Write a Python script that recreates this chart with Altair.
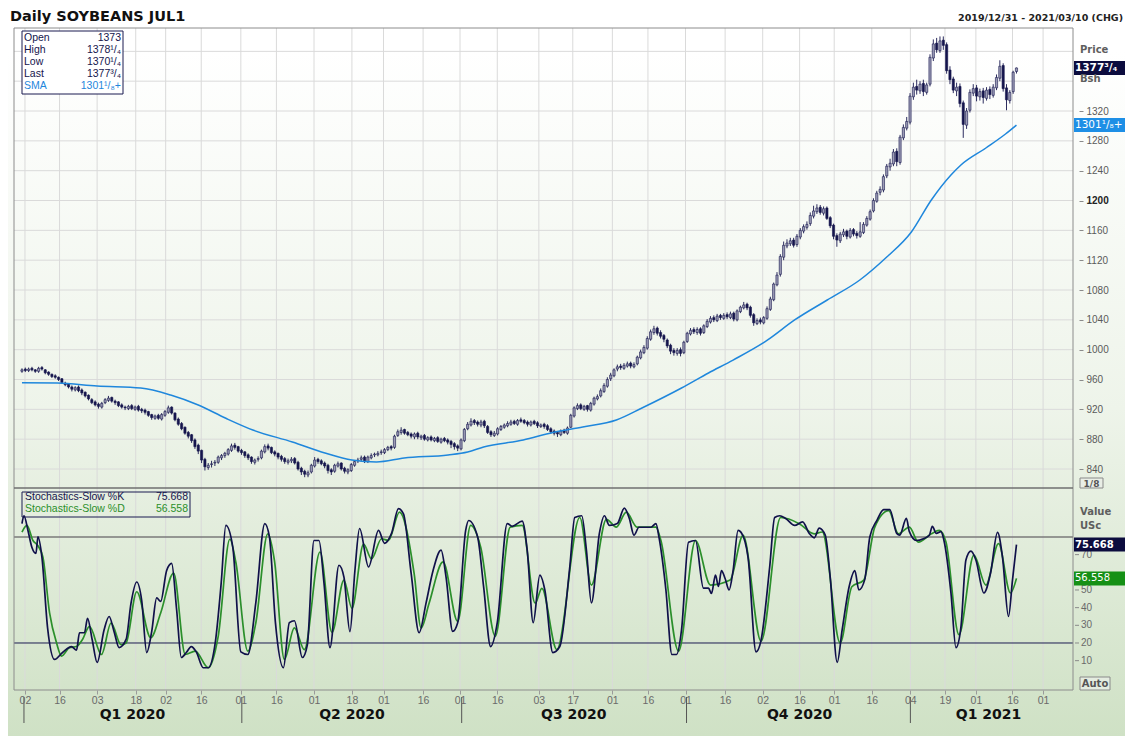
import json
import altair as alt
import pandas as pd

# ---------------- data ----------------
opens = [
    971, 974, 972, 975, 973, 971, 976, 973, 970, 967,
    965, 963, 961, 955, 954, 950, 946, 950, 946, 943,
    939, 933, 930, 927, 923, 929, 932, 936, 931, 930,
    926, 923, 921, 925, 920, 924, 920, 919, 917, 913,
    908, 912, 907, 912, 916, 923, 915, 907, 901, 896,
    889, 886, 879, 872, 865, 853, 842, 846, 848, 849,
    855, 858, 860, 865, 872, 870, 865, 863, 859, 856,
    849, 853, 855, 863, 871, 869, 863, 861, 857, 854,
    849, 851, 854, 849, 841, 837, 832, 836, 844, 853,
    851, 848, 845, 839, 837, 844, 848, 841, 836, 838,
    845, 851, 853, 856, 850, 855, 859, 859, 862, 862,
    866, 870, 869, 885, 889, 893, 889, 887, 883, 888,
    882, 885, 879, 883, 878, 882, 876, 881, 879, 877,
    874, 871, 867, 878, 894, 899, 905, 903, 899, 904,
    897, 890, 885, 887, 893, 896, 898, 900, 904, 900,
    906, 905, 903, 899, 904, 902, 897, 900, 898, 894,
    891, 889, 886, 892, 888, 896, 911, 921, 926, 920,
    925, 919, 927, 934, 938, 944, 951, 961, 965, 974,
    978, 975, 978, 982, 977, 981, 989, 996, 1002, 1014,
    1023, 1029, 1023, 1019, 1013, 1006, 999, 995, 1000, 996,
    1011, 1021, 1027, 1023, 1028, 1023, 1031, 1037, 1043, 1039,
    1046, 1042, 1047, 1043, 1049, 1040, 1051, 1056, 1061, 1057,
    1047, 1035, 1040, 1036, 1042, 1054, 1067, 1087, 1101, 1124,
    1139, 1142, 1147, 1141, 1151, 1159, 1164, 1169, 1179, 1185,
    1191, 1183, 1190, 1177, 1167, 1153, 1146, 1154, 1159, 1151,
    1161, 1156, 1152, 1157, 1167, 1175, 1186, 1199, 1211, 1214,
    1233, 1245, 1249, 1266, 1251, 1284, 1297, 1305, 1339, 1353,
    1347, 1357, 1345, 1356, 1391, 1411, 1401, 1415, 1409, 1375,
    1363, 1347, 1353, 1331, 1301, 1321, 1344, 1351, 1339, 1347,
    1337, 1349, 1341, 1351, 1364, 1381, 1351, 1334, 1346, 1373,
]
highs = [
    975, 976, 976, 977, 974, 977, 978, 974, 971, 968,
    967, 964, 962, 957, 955, 952, 951, 952, 948, 944,
    940, 935, 932, 929, 930, 935, 938, 937, 933, 931,
    928, 925, 926, 927, 925, 926, 922, 921, 918, 914,
    913, 914, 915, 919, 925, 924, 916, 909, 903, 897,
    891, 887, 881, 874, 866, 855, 848, 851, 852, 858,
    860, 863, 868, 874, 875, 871, 867, 864, 861, 857,
    854, 857, 866, 873, 874, 870, 865, 862, 859, 856,
    854, 856, 856, 851, 843, 839, 838, 847, 856, 855,
    853, 850, 847, 841, 847, 850, 849, 843, 841, 848,
    852, 855, 858, 858, 858, 861, 862, 864, 866, 868,
    871, 872, 886, 893, 896, 894, 891, 889, 889, 890,
    886, 887, 884, 885, 883, 884, 882, 883, 881, 879,
    876, 873, 881, 895, 903, 908, 907, 905, 906, 906,
    899, 892, 891, 896, 899, 901, 904, 906, 906, 907,
    909, 907, 905, 905, 906, 904, 901, 902, 900, 896,
    893, 891, 893, 894, 897, 914, 924, 928, 928, 926,
    926, 930, 937, 940, 948, 955, 963, 969, 975, 980,
    981, 982, 984, 984, 983, 992, 1000, 1006, 1018, 1027,
    1032, 1031, 1026, 1021, 1015, 1008, 1002, 1002, 1003, 1012,
    1024, 1029, 1030, 1030, 1030, 1034, 1041, 1045, 1046, 1048,
    1048, 1049, 1050, 1051, 1051, 1054, 1059, 1064, 1063, 1059,
    1049, 1042, 1043, 1045, 1058, 1071, 1090, 1104, 1128, 1145,
    1148, 1150, 1150, 1155, 1163, 1168, 1172, 1184, 1193, 1195,
    1194, 1192, 1192, 1179, 1169, 1156, 1158, 1162, 1161, 1163,
    1163, 1159, 1171, 1171, 1179, 1188, 1203, 1213, 1219, 1235,
    1249, 1256, 1269, 1270, 1288, 1302, 1312, 1344, 1358, 1362,
    1360, 1362, 1358, 1396, 1416, 1418, 1420, 1420, 1412, 1380,
    1366, 1358, 1357, 1334, 1324, 1349, 1356, 1355, 1350, 1351,
    1352, 1353, 1356, 1369, 1388, 1384, 1356, 1348, 1374, 1378.25,
]
lows = [
    969, 970, 970, 971, 969, 969, 972, 967, 965, 962,
    961, 958, 954, 951, 948, 944, 944, 943, 939, 936,
    932, 927, 924, 921, 921, 927, 930, 929, 926, 923,
    921, 919, 919, 919, 918, 917, 915, 913, 910, 906,
    906, 906, 905, 910, 914, 913, 904, 898, 892, 886,
    881, 875, 867, 860, 848, 838, 839, 842, 844, 847,
    852, 855, 858, 863, 866, 862, 859, 855, 852, 847,
    846, 850, 853, 861, 865, 860, 857, 853, 850, 847,
    846, 848, 846, 838, 832, 829, 829, 834, 842, 847,
    845, 841, 834, 832, 835, 842, 838, 834, 833, 836,
    843, 848, 850, 848, 848, 853, 856, 857, 859, 860,
    864, 865, 867, 883, 886, 886, 884, 881, 880, 880,
    879, 878, 877, 877, 876, 875, 874, 876, 873, 868,
    866, 864, 865, 876, 892, 897, 899, 897, 896, 895,
    887, 883, 883, 885, 891, 894, 896, 898, 899, 898,
    902, 900, 897, 897, 899, 895, 895, 894, 891, 887,
    885, 883, 884, 887, 886, 895, 909, 919, 919, 918,
    917, 917, 925, 932, 936, 942, 949, 958, 963, 971,
    973, 973, 976, 975, 975, 979, 987, 994, 1000, 1012,
    1020, 1019, 1015, 1010, 1002, 994, 992, 992, 991, 994,
    1009, 1019, 1021, 1020, 1019, 1021, 1029, 1035, 1037, 1037,
    1040, 1040, 1041, 1041, 1038, 1038, 1049, 1054, 1053, 1043,
    1032, 1033, 1034, 1034, 1040, 1052, 1065, 1085, 1098, 1120,
    1136, 1139, 1137, 1138, 1148, 1156, 1161, 1166, 1176, 1182,
    1181, 1180, 1174, 1163, 1148, 1138, 1143, 1151, 1148, 1149,
    1152, 1149, 1150, 1155, 1165, 1173, 1184, 1197, 1207, 1211,
    1230, 1240, 1246, 1246, 1248, 1281, 1294, 1302, 1335, 1342,
    1343, 1340, 1342, 1353, 1387, 1398, 1398, 1402, 1370, 1356,
    1344, 1340, 1325, 1284, 1296, 1318, 1340, 1333, 1334, 1330,
    1334, 1336, 1338, 1348, 1360, 1346, 1321, 1330, 1343, 1370.25,
]
closes = [
    973, 972, 974, 973, 971, 975, 974, 969, 967, 964,
    963, 960, 956, 953, 950, 947, 949, 945, 942, 938,
    934, 929, 926, 924, 928, 933, 935, 931, 929, 925,
    923, 922, 924, 921, 923, 919, 918, 916, 912, 909,
    911, 908, 913, 917, 922, 915, 906, 900, 894, 888,
    884, 878, 870, 864, 852, 843, 845, 847, 849, 856,
    858, 861, 866, 871, 869, 864, 862, 858, 855, 850,
    852, 854, 864, 870, 868, 862, 860, 856, 853, 850,
    851, 853, 848, 840, 836, 833, 835, 845, 852, 850,
    847, 844, 838, 836, 845, 847, 840, 837, 839, 846,
    850, 852, 855, 851, 856, 858, 860, 861, 863, 866,
    869, 868, 884, 890, 892, 888, 886, 884, 887, 883,
    884, 880, 882, 879, 881, 877, 880, 878, 876, 873,
    870, 868, 879, 893, 900, 904, 902, 900, 903, 898,
    889, 886, 888, 894, 897, 899, 901, 903, 901, 905,
    904, 902, 900, 903, 901, 898, 899, 897, 893, 890,
    888, 887, 891, 889, 895, 912, 922, 925, 921, 924,
    920, 928, 935, 937, 945, 952, 960, 966, 973, 977,
    976, 979, 981, 978, 980, 990, 997, 1003, 1015, 1024,
    1028, 1022, 1018, 1014, 1005, 998, 996, 999, 995, 1010,
    1022, 1026, 1024, 1027, 1022, 1032, 1038, 1042, 1040, 1045,
    1043, 1046, 1044, 1048, 1041, 1052, 1057, 1060, 1056, 1046,
    1036, 1039, 1037, 1043, 1055, 1068, 1088, 1100, 1125, 1140,
    1143, 1146, 1140, 1152, 1160, 1165, 1168, 1180, 1186, 1190,
    1184, 1189, 1176, 1166, 1152, 1147, 1155, 1158, 1152, 1160,
    1155, 1153, 1158, 1168, 1176, 1185, 1200, 1210, 1215, 1232,
    1246, 1250, 1265, 1252, 1285, 1298, 1306, 1340, 1352, 1348,
    1356, 1346, 1355, 1392, 1410, 1402, 1414, 1408, 1374, 1362,
    1348, 1352, 1330, 1302, 1320, 1345, 1350, 1340, 1346, 1338,
    1348, 1342, 1352, 1365, 1380, 1350, 1335, 1345, 1372, 1377.75,
]

# SMA (bar position, value)
sma_i = [0, 10.7, 22.6, 35.7, 44.7, 53.0, 61.3, 69.4, 81.3, 91.1, 99.2, 106.6,
         114.9, 128.1, 134.0, 138.8, 150.7, 159.6, 168.6, 178.7, 186.4, 198.3,
         206.4, 213.8, 224.2, 232.3, 242.1, 251.9, 260.0, 267.4, 273.4, 279.3,
         282.3, 289.8, 295.7, 299.0]
sma_v = [955.7, 955.3, 951.3, 948.6, 939.2, 925.8, 908, 892.3, 876.2, 861.4, 852, 849.4,
         854.7, 858.8, 862.8, 869.5, 878.9, 889, 896.3, 905.7, 921.8, 948.6,
         968.7, 986.1, 1013, 1039.8, 1066.6, 1093.4, 1124.2, 1157.8, 1200.7, 1234.2,
         1247.6, 1270.4, 1289.2, 1301.125]

# Stochastics-Slow %K (bar position, value)
k_i = [0, 0.6, 1.8, 3.0, 4.2, 4.8, 6.0, 7.7, 9.8, 12.2, 14.9, 16.4, 17.3, 18.8, 19.7,
       21.1, 22.6, 24.7, 26.2, 27.7, 29.2, 31.3, 32.8, 34.5, 36.0, 37.5, 39.0, 40.5,
       41.7, 43.5, 45.0, 46.5, 47.9, 49.4, 50.9, 52.4, 54.5, 56.0, 58.1, 59.9, 61.3,
       63.4, 65.8, 67.9, 70.3, 73.0, 74.4, 76.2, 78.6, 80.4, 81.9, 84.3, 85.8, 87.8,
       89.3, 90.8, 92.6, 95.3, 96.8, 98.6, 100.1, 101.5, 104.2, 107.2, 109.0, 111.1,
       113.2, 114.7, 117.0, 119.4, 121.5, 123.6, 126.0, 127.5, 129.5, 131.0, 133.4,
       134.3, 137.0, 138.8, 140.9, 142.9, 145.9, 147.4, 150.4, 151.9, 153.7, 155.7,
       157.2, 159.6, 161.7, 164.7, 166.2, 168.3, 169.7, 171.2, 173.6, 175.1, 176.6,
       179.0, 181.1, 182.6, 184.0, 185.5, 189.1, 190.6, 191.5, 193.6, 195.4, 196.8,
       198.3, 200.4, 202.5, 204.9, 206.4, 207.3, 208.5, 209.4, 210.3, 211.4, 212.6,
       213.8, 215.3, 216.2, 218.3, 220.7, 222.2, 224.8, 226.3, 227.8, 229.6, 232.3,
       234.7, 236.7, 238.2, 239.7, 241.5, 243.0, 245.1, 246.6, 248.7, 250.4, 251.6,
       253.4, 254.9, 257.0, 259.1, 260.9, 263.0, 263.9, 265.9, 266.8, 268.9, 271.0,
       272.8, 273.7, 274.9, 276.3, 277.2, 279.3, 280.8, 282.3, 283.8, 285.3, 286.8,
       289.2, 291.2, 293.3, 294.8, 296.6, 297.8, 299.0]
k_v = [87.6, 92, 83.7, 74, 70.7, 80, 68.5, 28.6, 10.7, 14.6, 18, 16, 25.8, 25.8, 34,
       22, 9, 27.5, 35, 26.4, 17.4, 22, 42.7, 54.5, 44, 14.6, 26.4, 45.5,
       43.5, 61, 65, 38.8, 11.8, 14.6, 18, 15, 6, 6, 20, 54, 86.5,
       74, 15, 13.5, 42.7, 87.6, 80, 31.5, 6, 31.5, 32.6, 11.8, 19, 78,
       78, 54, 17.4, 64, 57.3, 26.4, 61, 84.8, 63, 83.7, 76.4, 82,
       96, 93, 59.5, 25.8, 42.7, 61, 72.5, 57.3, 26.6, 31.5, 83.7,
       89.3, 80, 51.7, 18, 31.5, 87.6, 86, 89, 72.5, 31.5, 58.4,
       50, 14.6, 18, 63, 91, 92, 72.5, 42.7, 82, 92, 86.5,
       87.6, 96.3, 90.5, 81, 85.5, 85.5, 87.6, 80, 50, 13.5, 13.5,
       27.5, 77, 78, 51, 51, 48, 58.4, 52, 61, 56.5, 50,
       61, 83.7, 82.6, 68.5, 15, 21.5, 63, 91, 92, 90.5, 86.5,
       88.5, 82, 79.5, 85, 81, 57.3, 9, 27.5, 52, 61, 50,
       56, 80, 89.3, 95.5, 95.5, 82, 81, 90.5, 83, 78, 79,
       81, 86, 82, 83, 78, 48.3, 17.4, 29, 67, 72, 67,
       48.3, 59.5, 82.6, 68.5, 35, 55.6, 75.668]

# Stochastics-Slow %D (bar position, value)
d_i = [0, 1.5, 3.3, 4.8, 6.3, 8.3, 10.4, 11.9, 14.3, 16.4, 18.2, 20.3, 23.9, 26.8,
       29.8, 31.3, 34.5, 38.7, 41.7, 45.6, 49.1, 52.1, 56.0, 59.0, 62.5, 64.3, 67.9,
       70.3, 73.9, 75.9, 78.9, 81.9, 84.9, 89.6, 93.2, 96.8, 99.2, 102.7, 105.1,
       108.1, 110.2, 113.5, 117.9, 120.0, 122.4, 126.6, 131.0, 134.9, 137.9, 142.3,
       146.8, 150.4, 154.3, 156.3, 160.8, 167.7, 171.2, 175.7, 178.7, 181.7, 184.9,
       190.6, 192.1, 197.4, 202.5, 207.0, 212.9, 216.8, 222.2, 228.1, 233.8, 238.2,
       240.6, 246.0, 249.5, 253.1, 256.4, 260.6, 263.5, 266.8, 269.5, 273.4, 275.8,
       277.8, 281.7, 286.2, 289.8, 293.6, 297.2, 299.0]
d_v = [82.8, 86.5, 78, 75, 68.5, 37, 20, 12.6, 17.4, 18, 22, 29.4, 13.5, 31.3,
       19, 20, 49, 23, 37, 59.5, 13.5, 15.4, 6, 23.8, 78.7, 65.7, 15.4,
       31.3, 81.8, 66.8, 10.7, 28.6, 16.3, 71.5, 26, 55.6, 39.6, 76, 67.6,
       79, 78, 94, 59.4, 28.5, 42.5, 65.9, 32.2, 86.5, 74.3, 23.8,
       85.6, 86.5, 42.5, 50.9, 16.3, 91, 52.8, 90, 85.6, 94, 85.6,
       85.6, 78, 15.4, 78, 52.8, 55.6, 80.9, 21, 91, 87.4, 81.8,
       82.8, 20, 51.8, 55.6, 85.6, 94.9, 81.8, 85.6, 77.1, 81.8, 83.7,
       77.1, 24.7, 69.7, 52.8, 76.2, 48.3, 56.558]

# x axis (bar positions of the date ticks), labels, quarters
tick_pos = [0.9, 11.3, 22.6, 34.2, 43.2, 53.9, 65.8, 76.5, 87.8, 99.2, 108.7, 120.6,
            131.7, 142.9, 155.4, 165.6, 177.5, 188.2, 199.5, 211.4, 222.7, 233.8,
            244.2, 255.5, 267.1, 277.5, 286.8, 297.8, 307.0]
tick_lab = ["02", "16", "03", "18", "02", "16", "01", "16", "01", "18", "01", "16",
            "01", "16", "03", "17", "01", "16", "01", "16", "02", "16",
            "01", "16", "04", "19", "01", "16", "01"]
q_pos = [33.2, 99.2, 165.9, 233.8, 290.6]
q_lab = ["Q1 2020", "Q2 2020", "Q3 2020", "Q4 2020", "Q1 2021"]
q_sep = [0.6, 66.1, 132.2, 199.8, 267.1]

price_ticks = [840, 880, 920, 960, 1000, 1040, 1080, 1120, 1160, 1200, 1240, 1280, 1320]
price_grid = price_ticks + [1360, 1400]
stoch_ticks = [10, 20, 30, 40, 50, 70]
stoch_levels = [80, 20]

last_price, last_sma, last_k, last_d = 1377.75, 1301.125, 75.668, 56.558
info_lab = ["Open", "High", "Low", "Last", "SMA"]
info_val = ["1373", "1378\u00b9/\u2084", "1370\u00b9/\u2084", "1377\u00b3/\u2084", "1301\u00b9/\u2088+"]

# ---------------- layout / style ----------------
W, H = 1059, 662
NAVY = "#15154d"
UPFILL = "#9c9cb6"
SMA_C = "#1f87dc"
K_C = "#10104a"
D_C = "#2b8f2b"
GRID = "#dadada"
BORDER = "#8c8c8c"

N = min(len(opens), len(highs), len(lows), len(closes))
df = pd.DataFrame({"i": list(range(N)), "o": opens[:N], "h": highs[:N],
                   "l": lows[:N], "c": closes[:N]})
df["blo"] = df[["o", "c"]].min(axis=1)
df["bhi"] = df[["o", "c"]].max(axis=1)
df["h"] = df[["h", "bhi"]].max(axis=1)
df["l"] = df[["l", "blo"]].min(axis=1)
df["col"] = [UPFILL if c >= o else NAVY for o, c in zip(df["o"], df["c"])]

XS = alt.Scale(domain=[-0.893, 314.49], nice=False, zero=False)
YP = alt.Scale(domain=[543.7, 1431.3], nice=False, zero=False)
YS = alt.Scale(domain=[-6.6, 368.0], nice=False, zero=False)

label_expr = "%s[indexof(%s, datum.value)]" % (json.dumps(tick_lab), json.dumps(tick_pos))
XA = alt.Axis(values=tick_pos, labelExpr=label_expr, grid=False, domain=False,
              tickSize=4, tickColor="#9a9a9a", labelFont="Liberation Sans",
              labelFontSize=10.5, labelColor="#6a6a6a", labelPadding=1,
              labelOverlap=False, labelFlush=False, title=None, zindex=1)
X = alt.X("i:Q", scale=XS, axis=XA)

YA = alt.Axis(orient="right", values=price_ticks, format="d", grid=False, domain=False,
              tickSize=4, offset=6, tickColor="#8a8a8a", labelFont="Liberation Sans",
              labelFontSize=10, labelPadding=3, title=None, zindex=1,
              labelColor={"condition": {"test": "datum.value == 1200", "value": "#222222"},
                          "value": "#5a5a5a"},
              labelFontWeight={"condition": {"test": "datum.value == 1200", "value": "bold"},
                               "value": "normal"})

one = pd.DataFrame({"z": [0]})


def txt(s, x, y, size=10, color="#333333", weight="normal", align="left",
        baseline="middle", font="DejaVu Sans"):
    return alt.Chart(one).mark_text(text=s, align=align, baseline=baseline, font=font,
                                    fontSize=size, fontWeight=weight, color=color).encode(
        x=alt.value(x), y=alt.value(y))


def box(x1, x2, y1, y2, fill, stroke, sw=1.0):
    return alt.Chart(one).mark_rect(fill=fill, stroke=stroke, strokeWidth=sw).encode(
        x=alt.value(x1), x2=alt.value(x2), y=alt.value(y1), y2=alt.value(y2))


# background gradient over whole canvas
bg = alt.Chart(one).mark_rect(
    fill=alt.Gradient(gradient="linear",
                      stops=[alt.GradientStop(color="#ffffff", offset=0),
                             alt.GradientStop(color="#ffffff", offset=0.06),
                             alt.GradientStop(color="#eef4ea", offset=0.55),
                             alt.GradientStop(color="#cfe1c5", offset=1)],
                      x1=0, x2=0, y1=0, y2=1)).encode(
    x=alt.value(-6), x2=alt.value(W + 52), y=alt.value(-20), y2=alt.value(H + 46))

vgrid = alt.Chart(pd.DataFrame({"i": tick_pos})).mark_rule(color=GRID, strokeWidth=1).encode(
    x=X, y=alt.value(0), y2=alt.value(H))

# ---------------- price panel ----------------
pgrid = alt.Chart(pd.DataFrame({"p": price_grid})).mark_rule(color=GRID, strokeWidth=1).encode(
    y=alt.Y("p:Q", scale=YP, axis=YA), x=alt.value(0), x2=alt.value(W))
wick = alt.Chart(df).mark_rule(color=NAVY, strokeWidth=0.9).encode(
    x=X, y=alt.Y("l:Q", scale=YP, axis=YA), y2="h")
body = alt.Chart(df).mark_bar(size=2.2, orient="vertical", stroke=NAVY, strokeWidth=0.6).encode(
    x=X, y=alt.Y("blo:Q", scale=YP, axis=YA), y2="bhi", fill=alt.Color("col:N", scale=None))
sma = alt.Chart(pd.DataFrame({"i": sma_i, "p": sma_v})).mark_line(
    color=SMA_C, strokeWidth=1.5, interpolate="monotone").encode(
    x=X, y=alt.Y("p:Q", scale=YP, axis=YA))
ptags = pd.DataFrame({"p": [last_price, last_sma],
                      "t": ["1377\u00b3/\u2084", "1301\u00b9/\u2088+"],
                      "f": ["#0c0c3e", "#1e8fe6"]})
ptag_rect = alt.Chart(ptags).mark_rect(yOffset=-7, y2Offset=7).encode(
    y=alt.Y("p:Q", scale=YP, axis=YA), y2="p", x=alt.value(W + 1), x2=alt.value(W + 52),
    fill=alt.Color("f:N", scale=None))
ptag_txt1 = alt.Chart(ptags.iloc[[0]]).mark_text(
    align="left", baseline="middle", font="DejaVu Sans", fontSize=10.5, fontWeight="bold",
    color="white").encode(y=alt.Y("p:Q", scale=YP, axis=YA), x=alt.value(W + 2), text="t:N")
ptag_txt2 = alt.Chart(ptags.iloc[[1]]).mark_text(
    align="left", baseline="middle", font="DejaVu Sans", fontSize=10.5, fontWeight="normal",
    color="white").encode(y=alt.Y("p:Q", scale=YP, axis=YA), x=alt.value(W + 2), text="t:N")
price = alt.layer(pgrid, wick, body, sma, ptag_rect, ptag_txt1, ptag_txt2)

# ---------------- stochastics panel ----------------
lv = alt.Chart(pd.DataFrame({"v": stoch_levels, "c": ["#7a7a7a", "#1c1c50"],
                             "w": [1.6, 1.0]})).mark_rule().encode(
    y=alt.Y("v:Q", scale=YS, axis=None), x=alt.value(0), x2=alt.value(W),
    color=alt.Color("c:N", scale=None), strokeWidth=alt.StrokeWidth("w:Q", scale=None))
kline = alt.Chart(pd.DataFrame({"i": k_i, "v": k_v})).mark_line(
    color=K_C, strokeWidth=1.7, interpolate="monotone").encode(
    x=X, y=alt.Y("v:Q", scale=YS, axis=None))
dline = alt.Chart(pd.DataFrame({"i": d_i, "v": d_v})).mark_line(
    color=D_C, strokeWidth=1.7, interpolate="monotone").encode(
    x=X, y=alt.Y("v:Q", scale=YS, axis=None))
sdf = pd.DataFrame({"v": stoch_ticks, "t": [str(v) for v in stoch_ticks]})
stick = alt.Chart(sdf).mark_rule(color="#8a8a8a").encode(
    y=alt.Y("v:Q", scale=YS, axis=None), x=alt.value(W + 2), x2=alt.value(W + 6))
slab = alt.Chart(sdf).mark_text(align="left", baseline="middle", font="Liberation Sans",
                                fontSize=10, color="#6a6a6a").encode(
    y=alt.Y("v:Q", scale=YS, axis=None), x=alt.value(W + 8), text="t:N")
stags = pd.DataFrame({"v": [last_k, last_d], "t": ["75.668", "56.558"],
                      "f": ["#0c0c3e", "#159015"]})
stag_rect = alt.Chart(stags).mark_rect(yOffset=-7, y2Offset=7).encode(
    y=alt.Y("v:Q", scale=YS, axis=None), y2="v", x=alt.value(W + 1), x2=alt.value(W + 52),
    fill=alt.Color("f:N", scale=None))
stag_txt1 = alt.Chart(stags.iloc[[0]]).mark_text(
    align="left", baseline="middle", font="DejaVu Sans", fontSize=10, fontWeight="bold",
    color="white").encode(y=alt.Y("v:Q", scale=YS, axis=None), x=alt.value(W + 2), text="t:N")
stag_txt2 = alt.Chart(stags.iloc[[1]]).mark_text(
    align="left", baseline="middle", font="DejaVu Sans", fontSize=10, fontWeight="normal",
    color="white").encode(y=alt.Y("v:Q", scale=YS, axis=None), x=alt.value(W + 2), text="t:N")
stoch = alt.layer(lv, dline, kline, stick, slab, stag_rect, stag_txt1, stag_txt2)

# ---------------- x-axis quarter labels ----------------
qsep = alt.Chart(pd.DataFrame({"i": q_sep})).mark_rule(color="#555555", strokeWidth=1).encode(
    x=X, y=alt.value(H + 7), y2=alt.value(H + 33))
qlab = alt.Chart(pd.DataFrame({"i": q_pos, "t": q_lab})).mark_text(
    font="DejaVu Sans", fontSize=14, fontWeight="bold", color="#111111",
    baseline="middle").encode(x=X, y=alt.value(H + 25), text="t:N")

# ---------------- frames, legends, captions ----------------
deco = [
    box(0, W, 0, H, "transparent", BORDER, 1),
    alt.Chart(one).mark_rule(color="#6f6f6f", strokeWidth=1.5).encode(
        x=alt.value(0), x2=alt.value(W), y=alt.value(460)),
    txt("Daily SOYBEANS JUL1", -4, -7, size=14.5, color="#111111", weight="bold",
        baseline="alphabetic"),
    txt("2019/12/31 - 2021/03/10 (CHG)", 1109, -7, size=9.5, color="#222222", weight="bold",
        align="right", baseline="alphabetic"),
    txt("Price", W + 7, 22, size=10, color="#5e5e5e", weight="bold"),
    txt("Bsh", W + 7, 51, size=10, color="#5e5e5e", weight="bold"),
    txt("Value", W + 7, 484, size=10, color="#5e5e5e", weight="bold"),
    txt("USc", W + 7, 498, size=10, color="#5e5e5e", weight="bold"),
    box(W + 7, W + 30, 450, 460, "#e9eee6", "#8a8a8a", 1),
    txt("1/8", W + 18.5, 455.5, size=9, color="#555555", weight="bold", align="center"),
    box(W + 7, W + 37, 649, 662, "#e4ece0", "#8a8a8a", 1),
    txt("Auto", W + 22, 655.5, size=10, color="#555555", weight="bold", align="center"),
    box(8, 109, 3, 66, "#ffffff", "#1b1b50", 1),
    box(8, 176, 464, 489, "transparent", "#1b1b50", 1),
    txt("Stochastics-Slow %K", 11, 469, size=10.5, color=NAVY, font="Liberation Sans"),
    txt("75.668", 174, 469, size=10.5, color=NAVY, align="right", font="Liberation Sans"),
    txt("Stochastics-Slow %D", 11, 481, size=10.5, color=D_C, font="Liberation Sans"),
    txt("56.558", 174, 481, size=10.5, color=D_C, align="right", font="Liberation Sans"),
]
for r, (lab, val) in enumerate(zip(info_lab, info_val)):
    colr = SMA_C if lab == "SMA" else "#15154d"
    deco.append(txt(lab, 10, 10 + 12 * r, size=10.5, color=colr, font="Liberation Sans"))
    deco.append(txt(val, 107, 10 + 12 * r, size=10.5, color=colr, align="right",
                    font="Liberation Sans"))

chart = alt.layer(bg, vgrid, price, stoch, qsep, qlab, *deco).resolve_scale(
    y="independent").properties(
    width=W, height=H,
    padding={"left": 6, "top": 20, "right": 52, "bottom": 46},
    autosize=alt.AutoSizeParams(type="none"),
    background="#ffffff",
).configure_view(stroke=None)

chart.save("out.html", embed_options={"renderer": "svg", "actions": False})
